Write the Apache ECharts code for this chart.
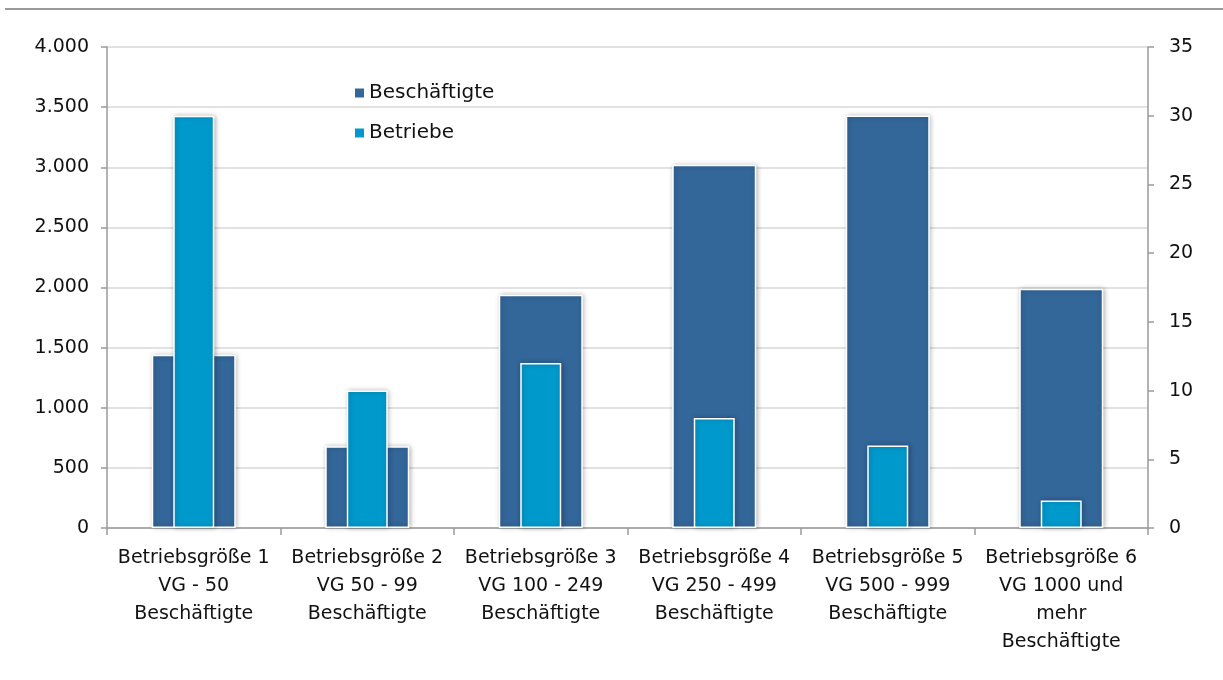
<!DOCTYPE html>
<html><head><meta charset="utf-8">
<script src="https://cdn.jsdelivr.net/npm/echarts@6/dist/echarts.min.js"></script>
<style>html,body{margin:0;padding:0;background:#fff}#c{width:1223px;height:680px}</style>
</head><body><div id="c"></div>
<script>
const categories = [
  "Betriebsgröße 1\nVG - 50\nBeschäftigte",
  "Betriebsgröße 2\nVG 50 - 99\nBeschäftigte",
  "Betriebsgröße 3\nVG 100 - 249\nBeschäftigte",
  "Betriebsgröße 4\nVG 250 - 499\nBeschäftigte",
  "Betriebsgröße 5\nVG 500 - 999\nBeschäftigte",
  "Betriebsgröße 6\nVG 1000 und\nmehr\nBeschäftigte"
];
const beschaeftigte = [1440, 680, 1940, 3020, 3430, 1990];
const betriebe = [30, 10, 12, 8, 6, 2];

const FONT = "DejaVu Sans";
const axisLineStyle = {color: "#9a9a9a", width: 1.5};
const fmtDe = v => String(v).replace(/\B(?=(\d{3})+(?!\d))/g, ".");
const shadow = {shadowBlur: 5, shadowColor: "rgba(0,0,0,0.28)", shadowOffsetX: 1, shadowOffsetY: 0};

const chart = echarts.init(document.getElementById("c"));
chart.setOption({
  animation: false,
  textStyle: {fontFamily: FONT},
  grid: {left: 107, right: 75, top: 47, bottom: 152},
  legend: {
    orient: "vertical", left: 350, top: 78, itemGap: 19,
    icon: "rect", itemWidth: 9, itemHeight: 9, itemGap: 20,
    itemStyle: {borderWidth: 0, shadowBlur: 0},
    textStyle: {fontFamily: FONT, fontSize: 20, color: "#111"},
    data: ["Beschäftigte", "Betriebe"]
  },
  graphic: [{
    type: "line", shape: {x1: 5, y1: 9, x2: 1223, y2: 9},
    style: {stroke: "#9a9a9a", lineWidth: 2}
  }],
  xAxis: [{
    type: "category", data: categories,
    axisLine: {lineStyle: axisLineStyle},
    axisTick: {show: true, length: 7, lineStyle: axisLineStyle},
    axisLabel: {fontFamily: FONT, fontSize: 19, color: "#111", lineHeight: 28, margin: 16, interval: 0}
  }, {
    type: "category", data: categories, show: false
  }],
  yAxis: [{
    type: "value", min: 0, max: 4000, interval: 500,
    axisLine: {show: true, lineStyle: axisLineStyle},
    axisTick: {show: true, length: 6, lineStyle: axisLineStyle},
    splitLine: {lineStyle: {color: "#d9d9d9", width: 1.5}},
    axisLabel: {fontFamily: FONT, fontSize: 19, color: "#111", margin: 18, formatter: fmtDe}
  }, {
    type: "value", min: 0, max: 35, interval: 5, position: "right",
    axisLine: {show: true, lineStyle: axisLineStyle},
    axisTick: {show: true, length: 6, lineStyle: axisLineStyle},
    splitLine: {show: false},
    axisLabel: {fontFamily: FONT, fontSize: 19, color: "#111", margin: 21}
  }],
  series: [{
    name: "Beschäftigte", type: "bar", xAxisIndex: 0, yAxisIndex: 0,
    data: beschaeftigte, barWidth: 84,
    itemStyle: Object.assign({color: "#336699", borderColor: "#fff", borderWidth: 1.5}, shadow)
  }, {
    name: "Betriebe", type: "bar", xAxisIndex: 1, yAxisIndex: 1,
    data: betriebe, barWidth: 41,
    itemStyle: Object.assign({color: "#0099cc", borderColor: "#fff", borderWidth: 1.5}, shadow)
  }]
});
</script></body></html>
